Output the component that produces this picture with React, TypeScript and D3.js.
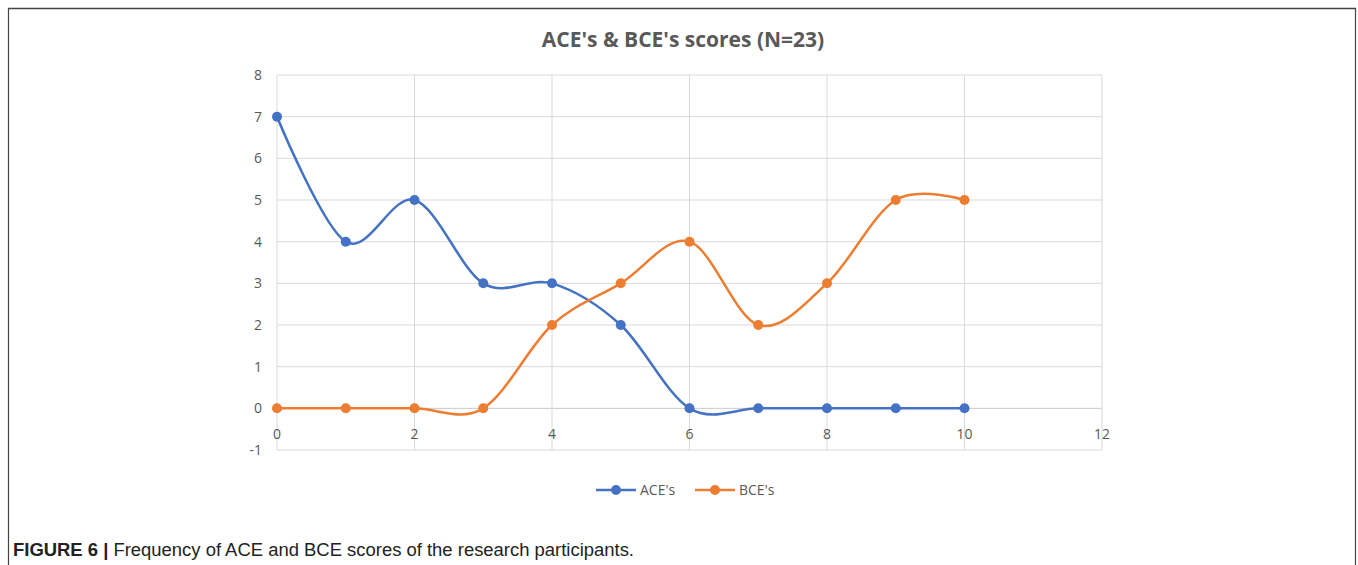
import React from "react";
import * as d3 from "d3";

const xValues = [0, 1, 2, 3, 4, 5, 6, 7, 8, 9, 10];
const aceValues = [7, 4, 5, 3, 3, 2, 0, 0, 0, 0, 0];
const bceValues = [0, 0, 0, 0, 2, 3, 4, 2, 3, 5, 5];
const xTicks = [0, 2, 4, 6, 8, 10, 12];
const yTicks = [-1, 0, 1, 2, 3, 4, 5, 6, 7, 8];
const seriesNames = ["ACE's", "BCE's"];
const colors = ["#4472C4", "#ED7D31"];
const title = "ACE's & BCE's scores (N=23)";

export default function App() {
  const W = 1358, H = 565;
  const x = d3.scaleLinear().domain([0, 12]).range([277, 1102]);
  const y = d3.scaleLinear().domain([-1, 8]).range([450, 75]);
  const line = d3
    .line<number>()
    .x((_, i) => x(xValues[i]))
    .y((d) => y(d))
    .curve(d3.curveCatmullRom.alpha(0));
  const series = [aceValues, bceValues];
  const font = "Open Sans, Noto Sans, sans-serif";
  const txt = "#595959";
  return (
    <svg width={W} height={H} style={{ position: "absolute", left: 0, top: 0 }}>
      <rect x={0} y={0} width={W} height={H} fill="#fff" />
      <line x1={8} x2={1356} y1={8.5} y2={8.5} stroke="#444" strokeWidth={1.5} />
      <line x1={8.5} x2={8.5} y1={8} y2={H} stroke="#444" strokeWidth={1.2} />
      <line x1={1355.5} x2={1355.5} y1={8} y2={H} stroke="#444" strokeWidth={1.2} />
      <text x={683} y={47} textAnchor="middle" fontFamily={font} fontWeight="bold" fontSize={21} fill={txt}>
        {title}
      </text>
      {yTicks.map((t) => (
        <g key={"y" + t}>
          <line x1={x(0)} x2={x(12)} y1={y(t)} y2={y(t)} stroke={t === 0 ? "#c8c8c8" : "#d9d9d9"} strokeWidth={1} />
          <text x={262} y={y(t) + 5} textAnchor="end" fontFamily={font} fontSize={14} fill={txt}>
            {t}
          </text>
        </g>
      ))}
      {xTicks.map((t) => (
        <g key={"x" + t}>
          <line x1={x(t)} x2={x(t)} y1={y(8)} y2={y(-1)} stroke="#d9d9d9" strokeWidth={1} />
          <text x={x(t)} y={y(0) + 31} textAnchor="middle" fontFamily={font} fontSize={14} fill={txt}>
            {t}
          </text>
        </g>
      ))}
      {series.map((s, si) => (
        <g key={"s" + si}>
          <path d={line(s) || ""} fill="none" stroke={colors[si]} strokeWidth={2.5} strokeLinecap="round" />
          {s.map((v, i) => (
            <circle key={i} cx={x(xValues[i])} cy={y(v)} r={5} fill={colors[si]} />
          ))}
        </g>
      ))}
      {seriesNames.map((n, i) => {
        const lx = 596 + i * 99;
        return (
          <g key={"l" + i}>
            <line x1={lx} x2={lx + 40} y1={490} y2={490} stroke={colors[i]} strokeWidth={2.5} />
            <circle cx={lx + 20} cy={490} r={5} fill={colors[i]} />
            <text x={lx + 44} y={495} fontFamily={font} fontSize={14} fill={txt}>
              {n}
            </text>
          </g>
        );
      })}
      <text x={13} y={556} fontFamily="Liberation Sans, Arial, sans-serif" fontSize={17.5} fill="#222" textLength={621} lengthAdjust="spacingAndGlyphs">
        <tspan fontWeight="bold">FIGURE 6 |</tspan>
        <tspan> Frequency of ACE and BCE scores of the research participants.</tspan>
      </text>
    </svg>
  );
}
